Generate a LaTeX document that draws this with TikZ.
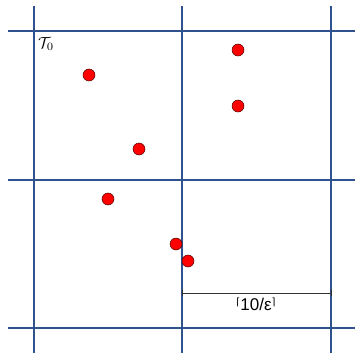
\documentclass[tikz,border=0pt]{standalone}
\usepackage{fontspec}
\setmainfont{Liberation Sans}
\newfontfamily\symfont{DejaVu Sans}
\usepackage{amsmath, amssymb}
\usepackage{tikz}
\usetikzlibrary{calc, positioning}
\definecolor{gridblue}{RGB}{47,82,143}
\definecolor{dotred}{RGB}{255,0,0}
\newcommand{\labelsize}{\fontsize{17}{19}\selectfont}
\newcommand{\ceilmark}[1]{{\symfont\fontsize{10}{12}\selectfont\raisebox{4.5pt}{#1}}}

\begin{document}
\begin{tikzpicture}[
    x=1pt, y=-1pt,
    gridline/.style={draw=gridblue, line width=1.8pt},
    point/.style={circle, draw=black!70!red, fill=dotred, line width=0.5pt, minimum size=12pt, inner sep=0pt},
    dim/.style={draw=black!80, line width=0.6pt}
]
    \useasboundingbox (0,0) rectangle (355,353);
    % grid
    \foreach \g in {34,182,331} {
        \draw [gridline] (\g,6) -- (\g,353);
    }
    \foreach \g in {31,180,328} {
        \draw [gridline] (8,\g) -- (355,\g);
    }
    \node [anchor=north west, inner sep=0pt] (tzero) at (38,37) {\scalebox{1.6}{$\mathcal{T}_0$}};

    % points
    \node [point] (p1) at (89,75) {};
    \node [point] (p2) at (238,50) {};
    \node [point] (p3) at (238,106) {};
    \node [point] (p4) at (139,149) {};
    \node [point] (p5) at (108,199) {};
    \node [point] (p6) at (176,244) {};
    \node [point] (p7) at (188,261) {};

    % cell width
    \coordinate (dl) at (182,293);
    \coordinate (dr) at (331,293);
    \draw [dim] (dl) -- (dr);
    \draw [dim] ($(dl)+(0,-3)$) -- ($(dl)+(0,3)$);
    \draw [dim] ($(dr)+(0,-3)$) -- ($(dr)+(0,3)$);
    \node [anchor=center, inner sep=0pt, font=\labelsize] (width) at (256,304) {\ceilmark{⌈}10/ε\ceilmark{⌉}};
\end{tikzpicture}
\end{document}
